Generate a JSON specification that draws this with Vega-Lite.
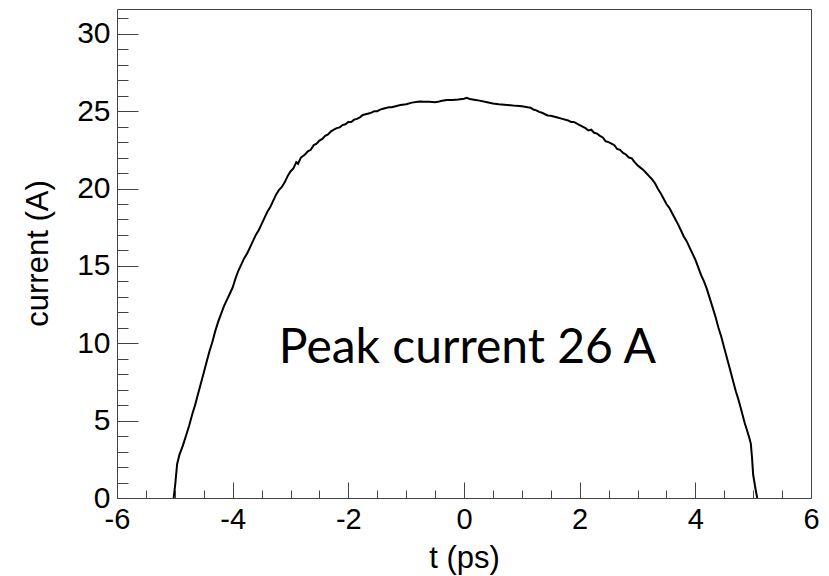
{
  "$schema": "https://vega.github.io/schema/vega-lite/v6.json",
  "autosize": "none",
  "width": 694,
  "height": 489,
  "padding": {"left": 117, "top": 9, "right": 18, "bottom": 78},
  "background": "white",
  "config": {
    "view": {"stroke": "#444", "strokeWidth": 1},
    "font": "Liberation Sans"
  },
  "datasets": {
    "profile": [
      {"t": -5.02, "current": 0}, {"t": -4.99, "current": 1.0}, {"t": -4.96, "current": 2.2}, {"t": -4.92, "current": 2.8},
      {"t": -4.86, "current": 3.4}, {"t": -4.8, "current": 4.1}, {"t": -4.75, "current": 4.7}, {"t": -4.7, "current": 5.4},
      {"t": -4.65, "current": 6.0}, {"t": -4.6, "current": 6.7}, {"t": -4.55, "current": 7.4}, {"t": -4.5, "current": 8.1},
      {"t": -4.45, "current": 8.8}, {"t": -4.4, "current": 9.5}, {"t": -4.35, "current": 10.1}, {"t": -4.3, "current": 10.8},
      {"t": -4.25, "current": 11.4}, {"t": -4.2, "current": 11.9}, {"t": -4.15, "current": 12.4}, {"t": -4.1, "current": 12.8},
      {"t": -4.05, "current": 13.2}, {"t": -4.0, "current": 13.6}, {"t": -3.95, "current": 14.2}, {"t": -3.9, "current": 14.7},
      {"t": -3.85, "current": 15.1}, {"t": -3.8, "current": 15.5}, {"t": -3.75, "current": 15.8}, {"t": -3.7, "current": 16.2},
      {"t": -3.65, "current": 16.6}, {"t": -3.6, "current": 17.0}, {"t": -3.55, "current": 17.3}, {"t": -3.5, "current": 17.7},
      {"t": -3.45, "current": 18.1}, {"t": -3.4, "current": 18.5}, {"t": -3.35, "current": 18.8}, {"t": -3.3, "current": 19.2},
      {"t": -3.25, "current": 19.6}, {"t": -3.2, "current": 19.9}, {"t": -3.15, "current": 20.1}, {"t": -3.1, "current": 20.4},
      {"t": -3.05, "current": 20.8}, {"t": -3.0, "current": 21.1}, {"t": -2.95, "current": 21.3}, {"t": -2.9, "current": 21.7},
      {"t": -2.87, "current": 21.6}, {"t": -2.82, "current": 22.0}, {"t": -2.75, "current": 22.2}, {"t": -2.7, "current": 22.4},
      {"t": -2.65, "current": 22.5}, {"t": -2.6, "current": 22.8}, {"t": -2.55, "current": 22.9}, {"t": -2.5, "current": 23.1},
      {"t": -2.45, "current": 23.2}, {"t": -2.4, "current": 23.4}, {"t": -2.35, "current": 23.5}, {"t": -2.3, "current": 23.7},
      {"t": -2.25, "current": 23.8}, {"t": -2.2, "current": 23.9}, {"t": -2.15, "current": 23.95}, {"t": -2.1, "current": 24.1},
      {"t": -2.05, "current": 24.15}, {"t": -2.0, "current": 24.3}, {"t": -1.95, "current": 24.3}, {"t": -1.9, "current": 24.45},
      {"t": -1.85, "current": 24.5}, {"t": -1.8, "current": 24.6}, {"t": -1.75, "current": 24.75}, {"t": -1.7, "current": 24.8},
      {"t": -1.65, "current": 24.85}, {"t": -1.6, "current": 24.9}, {"t": -1.55, "current": 25.0}, {"t": -1.5, "current": 25.0},
      {"t": -1.45, "current": 25.1}, {"t": -1.4, "current": 25.15}, {"t": -1.35, "current": 25.2}, {"t": -1.3, "current": 25.25},
      {"t": -1.25, "current": 25.25}, {"t": -1.2, "current": 25.3}, {"t": -1.1, "current": 25.4}, {"t": -1.0, "current": 25.45},
      {"t": -0.9, "current": 25.55}, {"t": -0.8, "current": 25.6}, {"t": -0.75, "current": 25.62}, {"t": -0.7, "current": 25.6},
      {"t": -0.6, "current": 25.6}, {"t": -0.5, "current": 25.58}, {"t": -0.45, "current": 25.6}, {"t": -0.4, "current": 25.65},
      {"t": -0.3, "current": 25.72}, {"t": -0.2, "current": 25.72}, {"t": -0.1, "current": 25.75}, {"t": 0.0, "current": 25.8},
      {"t": 0.05, "current": 25.86}, {"t": 0.1, "current": 25.78}, {"t": 0.2, "current": 25.72}, {"t": 0.27, "current": 25.68},
      {"t": 0.4, "current": 25.58}, {"t": 0.5, "current": 25.5}, {"t": 0.6, "current": 25.45}, {"t": 0.7, "current": 25.42},
      {"t": 0.8, "current": 25.38}, {"t": 0.9, "current": 25.34}, {"t": 1.0, "current": 25.32}, {"t": 1.1, "current": 25.25},
      {"t": 1.15, "current": 25.22}, {"t": 1.2, "current": 25.1}, {"t": 1.25, "current": 25.05}, {"t": 1.3, "current": 24.95},
      {"t": 1.35, "current": 24.9}, {"t": 1.4, "current": 24.8}, {"t": 1.45, "current": 24.72}, {"t": 1.5, "current": 24.7},
      {"t": 1.6, "current": 24.6}, {"t": 1.7, "current": 24.5}, {"t": 1.8, "current": 24.4}, {"t": 1.85, "current": 24.3},
      {"t": 1.9, "current": 24.3}, {"t": 2.0, "current": 24.1}, {"t": 2.05, "current": 24.0}, {"t": 2.1, "current": 23.9},
      {"t": 2.15, "current": 23.75}, {"t": 2.2, "current": 23.8}, {"t": 2.25, "current": 23.6}, {"t": 2.3, "current": 23.55},
      {"t": 2.35, "current": 23.4}, {"t": 2.4, "current": 23.3}, {"t": 2.45, "current": 23.05}, {"t": 2.5, "current": 23.0},
      {"t": 2.55, "current": 22.9}, {"t": 2.6, "current": 22.8}, {"t": 2.65, "current": 22.55}, {"t": 2.7, "current": 22.5},
      {"t": 2.75, "current": 22.3}, {"t": 2.8, "current": 22.2}, {"t": 2.85, "current": 22.0}, {"t": 2.9, "current": 21.95},
      {"t": 2.95, "current": 21.7}, {"t": 3.0, "current": 21.5}, {"t": 3.05, "current": 21.35}, {"t": 3.1, "current": 21.2},
      {"t": 3.15, "current": 21.0}, {"t": 3.2, "current": 20.8}, {"t": 3.25, "current": 20.6}, {"t": 3.3, "current": 20.35},
      {"t": 3.35, "current": 20.0}, {"t": 3.4, "current": 19.7}, {"t": 3.45, "current": 19.35}, {"t": 3.5, "current": 19.0},
      {"t": 3.55, "current": 18.75}, {"t": 3.6, "current": 18.4}, {"t": 3.65, "current": 18.05}, {"t": 3.7, "current": 17.7},
      {"t": 3.75, "current": 17.3}, {"t": 3.8, "current": 16.9}, {"t": 3.85, "current": 16.6}, {"t": 3.9, "current": 16.2},
      {"t": 3.95, "current": 15.8}, {"t": 4.0, "current": 15.4}, {"t": 4.05, "current": 14.9}, {"t": 4.1, "current": 14.4},
      {"t": 4.15, "current": 14.0}, {"t": 4.2, "current": 13.5}, {"t": 4.25, "current": 12.9}, {"t": 4.3, "current": 12.3},
      {"t": 4.35, "current": 11.7}, {"t": 4.4, "current": 11.0}, {"t": 4.45, "current": 10.4}, {"t": 4.5, "current": 9.7},
      {"t": 4.55, "current": 9.0}, {"t": 4.6, "current": 8.3}, {"t": 4.65, "current": 7.6}, {"t": 4.7, "current": 6.9},
      {"t": 4.75, "current": 6.3}, {"t": 4.8, "current": 5.6}, {"t": 4.85, "current": 4.9}, {"t": 4.9, "current": 4.3},
      {"t": 4.94, "current": 3.8}, {"t": 4.96, "current": 3.5}, {"t": 4.98, "current": 2.6}, {"t": 5.0, "current": 1.5},
      {"t": 5.04, "current": 0.6}, {"t": 5.07, "current": 0}
    ],
    "note": [{"label": "Peak current 26 A"}]
  },
  "resolve": {"axis": {"x": "independent", "y": "independent"}},
  "layer": [
    {
      "data": {"name": "profile"},
      "mark": {"type": "line", "color": "black", "strokeWidth": 2, "clip": true},
      "encoding": {
        "x": {
          "field": "t", "type": "quantitative",
          "scale": {"domain": [-6, 6], "nice": false, "zero": false},
          "axis": {
            "orient": "bottom", "title": "t (ps)", "values": [-6, -4, -2, 0, 2, 4, 6],
            "labelExpr": "replace(datum.label, '\u2212', '-')",
            "domain": false, "grid": false, "tickSize": -16, "tickColor": "#444", "tickWidth": 1,
            "labelFontSize": 29, "labelColor": "black", "labelPadding": 23, "labelFlush": false,
            "labelOverlap": false, "labelBound": false, "labelFont": "Liberation Sans",
            "titleFontSize": 31, "titleFontWeight": "normal", "titleColor": "black", "titleFont": "Liberation Sans",
            "titleX": 347, "titleY": 69, "titleAlign": "center", "titleBaseline": "alphabetic", "titleAnchor": null
          }
        },
        "y": {
          "field": "current", "type": "quantitative",
          "scale": {"domain": [0, 31.6], "nice": false, "zero": false},
          "axis": {
            "orient": "left", "title": "current (A)", "values": [0, 5, 10, 15, 20, 25, 30],
            "domain": false, "grid": false, "tickSize": -21, "tickColor": "#444", "tickWidth": 1,
            "labelFontSize": 30, "labelColor": "black", "labelPadding": 28, "labelFlush": false,
            "labelOverlap": false, "labelBound": false, "labelFont": "Liberation Sans",
            "titleFontSize": 31, "titleFontWeight": "normal", "titleColor": "black", "titleFont": "Liberation Sans",
            "titleX": -70, "titleY": 244, "titleAngle": -90, "titleAlign": "center", "titleBaseline": "alphabetic", "titleAnchor": null
          }
        }
      }
    },
    {
      "data": {"name": "note"},
      "mark": {"type": "text", "font": "Lato", "fontSize": 48, "align": "center", "baseline": "alphabetic", "color": "black"},
      "encoding": {
        "text": {"field": "label", "type": "nominal"},
        "x": {
          "datum": 0.06, "type": "quantitative",
          "axis": {
            "orient": "bottom", "title": null, "values": [-5.5, -5, -4.5, -3.5, -3, -2.5, -1.5, -1, -0.5, 0.5, 1, 1.5, 2.5, 3, 3.5, 4.5, 5, 5.5],
            "domain": false, "grid": false, "tickSize": -8, "tickColor": "#444", "tickWidth": 1, "labels": false
          }
        },
        "y": {
          "datum": 8.75, "type": "quantitative",
          "axis": {
            "orient": "left", "title": null, "values": [1, 2, 3, 4, 6, 7, 8, 9, 11, 12, 13, 14, 16, 17, 18, 19, 21, 22, 23, 24, 26, 27, 28, 29, 31],
            "domain": false, "grid": false, "tickSize": -11, "tickColor": "#444", "tickWidth": 1, "labels": false
          }
        }
      }
    }
  ]
}
